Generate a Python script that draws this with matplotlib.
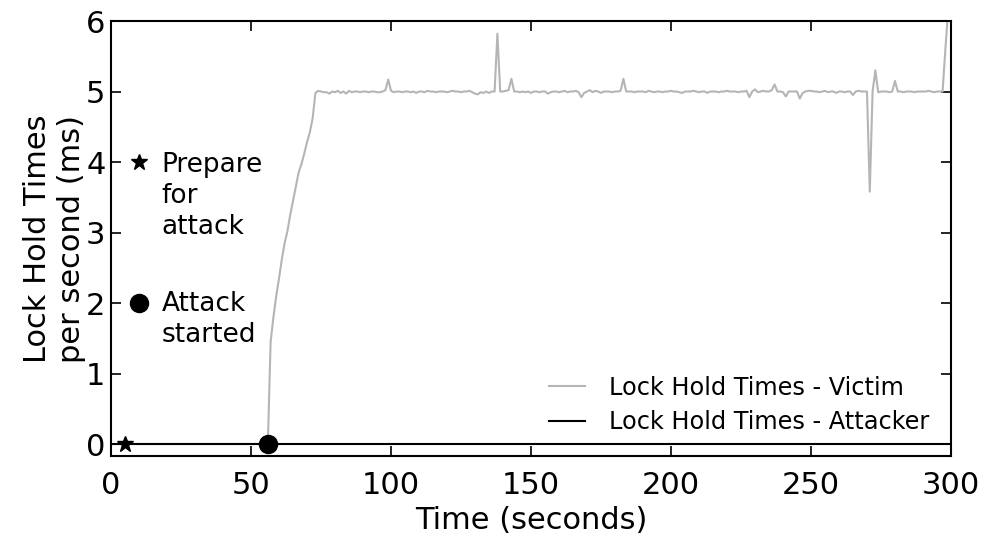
import matplotlib
matplotlib.use("Agg")
import matplotlib.pyplot as plt
import numpy as np

# time in seconds, sampled once per second
time_s = np.arange(0, 301)

# victim lock hold times (ms per second)
victim_idle = [0.0] * 57  # t = 0..56
victim_ramp = [1.45, 1.80, 2.10, 2.35, 2.62, 2.85, 3.02, 3.25, 3.45,
               3.65, 3.85, 3.97, 4.12, 4.28, 4.42, 4.62, 4.98]  # t = 57..73
victim_busy = [
    # t = 74..83
    5.01, 5.00, 4.99, 4.99, 4.97, 5.00, 4.99, 5.01, 4.98, 5.00,
    # 84..93
    4.97, 5.01, 4.99, 5.00, 5.00, 4.99, 5.00, 5.00, 4.99, 5.00,
    # 94..103
    5.00, 4.99, 4.99, 5.00, 5.02, 5.17, 5.01, 4.99, 5.00, 5.00,
    # 104..113
    4.99, 5.00, 5.00, 4.99, 5.00, 4.98, 5.00, 5.00, 4.99, 5.01,
    # 114..123
    5.00, 5.00, 4.99, 5.00, 5.00, 5.00, 4.99, 5.00, 5.01, 5.00,
    # 124..133
    5.00, 4.99, 5.00, 5.00, 5.01, 4.99, 4.97, 4.96, 4.99, 4.98,
    # 134..143
    5.00, 4.98, 5.00, 5.00, 5.82, 5.00, 5.00, 5.01, 5.02, 5.18,
    # 144..153
    5.00, 5.00, 4.99, 5.00, 4.99, 5.00, 4.98, 5.00, 5.00, 4.99,
    # 154..163
    5.00, 5.00, 4.97, 4.99, 5.00, 5.00, 4.99, 5.00, 5.01, 4.99,
    # 164..173
    5.00, 5.00, 5.01, 4.99, 4.92, 4.98, 5.00, 5.02, 4.99, 5.01,
    # 174..183
    5.00, 4.98, 5.00, 5.00, 5.00, 4.99, 5.00, 5.00, 5.01, 5.18,
    # 184..193
    5.00, 5.00, 5.00, 4.99, 5.00, 5.00, 5.00, 4.99, 5.01, 5.00,
    # 194..203
    4.99, 5.00, 5.00, 4.99, 5.00, 5.00, 5.01, 5.00, 5.00, 4.99,
    # 204..213
    4.98, 5.00, 5.00, 5.00, 5.01, 5.00, 4.99, 5.00, 5.00, 4.98,
    # 214..223
    5.00, 5.00, 5.00, 4.99, 5.00, 5.00, 5.01, 5.00, 5.00, 5.00,
    # 224..233
    4.99, 5.00, 5.00, 5.01, 4.92, 5.00, 5.03, 4.99, 5.00, 5.01,
    # 234..243
    5.00, 5.00, 5.02, 5.10, 5.00, 5.00, 4.99, 4.93, 5.00, 5.00,
    # 244..253
    5.00, 5.00, 4.90, 4.98, 5.00, 5.01, 5.01, 5.00, 5.00, 4.99,
    # 254..263
    5.00, 5.01, 4.99, 5.00, 5.00, 4.98, 5.00, 5.00, 4.99, 5.00,
    # 264..273
    5.00, 4.95, 5.00, 5.01, 5.00, 5.00, 5.00, 3.58, 5.00, 5.30,
    # 274..283
    4.99, 5.00, 5.00, 5.00, 4.99, 5.00, 5.15, 5.00, 5.00, 4.99,
    # 284..293
    5.00, 5.00, 5.00, 4.99, 5.00, 5.00, 5.00, 5.00, 5.01, 5.00,
    # 294..300
    4.99, 5.00, 5.00, 5.00, 5.60, 6.15, 6.40,
]
victim = victim_idle + victim_ramp + victim_busy

# attacker never holds the lock
attacker = [0.0] * len(time_s)

# event markers: (time, value)
prepare_t, prepare_v = 5, 0.0
start_t, start_v = 56, 0.0

fig = plt.figure(figsize=(9.87, 5.39), dpi=100)
ax = fig.add_axes([0.1125, 0.154, 0.851, 0.807])

ax.plot(time_s, victim, color="#b5b5b5", lw=1.5, label="Lock Hold Times - Victim")
ax.plot(time_s, attacker, color="black", lw=1.5, label="Lock Hold Times - Attacker")

ax.plot([prepare_t], [prepare_v], marker="*", color="black", ms=12, ls="none", clip_on=False)
ax.plot([start_t], [start_v], marker="o", color="black", ms=13, ls="none", clip_on=False)

# key for the event markers
ax.plot([10], [4], marker="*", color="black", ms=12, ls="none")
ax.text(18, 3.60, "Prepare\nfor\nattack", fontsize=19, va="center_baseline", ha="left",
        linespacing=1.25)
ax.plot([10], [2], marker="o", color="black", ms=13, ls="none")
ax.text(18, 1.84, "Attack\nstarted", fontsize=19, va="center_baseline", ha="left",
        linespacing=1.25)

ax.set_xlim(0, 300)
ax.set_ylim(-0.17, 6)
ax.set_xticks([0, 50, 100, 150, 200, 250, 300])
ax.set_yticks([0, 1, 2, 3, 4, 5, 6])
ax.tick_params(direction="in", length=7, width=1.2, labelsize=22, top=True, right=True)
ax.tick_params(axis="x", pad=11)
ax.tick_params(axis="y", pad=4)
for sp in ax.spines.values():
    sp.set_linewidth(1.5)

ax.set_xlabel("Time (seconds)", fontsize=22, labelpad=4)
ax.set_ylabel("Lock Hold Times\nper second (ms)", fontsize=22, labelpad=0)

ax.legend(loc="lower right", frameon=False, fontsize=17.3, handlelength=1.5,
          handletextpad=1.0, labelspacing=0.45)

fig.savefig("out.png", dpi=100)
